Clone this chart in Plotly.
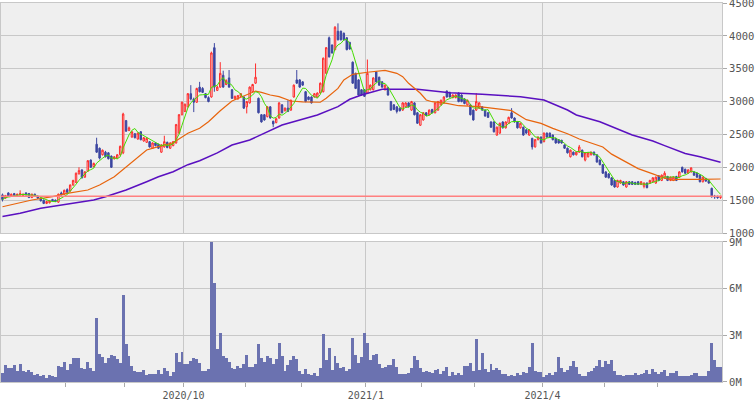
import plotly.graph_objects as go
import pandas as pd

# ---------------- data ----------------
opens = [1580,1530,1610,1560,1600,1570,1580,1570,1610,1600,
         1540,1590,1560,1530,1500,1450,1460,1510,1500,1470,
         1610,1590,1660,1640,1730,1770,1900,1960,1850,1940,
         2110,2010,2350,2290,2190,2230,2220,2170,2130,2140,
         2190,2220,2710,2560,2460,2510,2430,2540,2400,2380,
         2390,2290,2370,2350,2230,2310,2380,2290,2330,2370,
         2520,2800,2850,2920,3120,3040,2990,3220,3200,3120,
         3060,3070,3820,3170,3220,3400,3260,3360,3180,3040,
         3040,3080,3070,2920,2980,3150,3280,3050,2800,2800,
         2770,2920,2700,2680,2750,2950,2860,2900,2870,3070,
         3330,3330,3300,3150,3070,3070,3070,3070,3130,3150,
         3430,3970,3860,3790,4070,4070,4040,3970,3900,3600,
         3430,3330,3180,3180,3130,3180,3180,3450,3370,3300,
         3180,3210,3000,2950,2920,2900,2870,2920,2980,2870,
         2980,2830,2640,2720,2830,2800,2880,2830,2870,2950,
         2980,3160,3140,3060,3060,3130,3100,3040,2950,2950,
         2870,2870,2900,2920,2870,2830,2690,2690,2490,2520,
         2690,2600,2670,2830,2750,2690,2600,2610,2570,2490,
         2440,2310,2420,2460,2390,2520,2520,2490,2440,2420,
         2410,2340,2290,2160,2230,2190,2230,2260,2110,2160,
         2190,2230,2190,2110,2040,1930,1900,1840,1800,1700,
         1760,1780,1700,1780,1780,1770,1780,1740,1710,1760,
         1760,1780,1760,1870,1800,1840,1860,1800,1800,1860,
         1850,2000,1970,1910,1930,1930,1910,1880,1780,1830,
         1800,1680,1560,1550,1540]
highs = [1600,1580,1620,1600,1610,1600,1650,1600,1620,1610,
         1600,1600,1570,1540,1510,1490,1500,1520,1510,1600,
         1630,1660,1680,1740,1810,1920,2000,1970,1940,2110,
         2120,2070,2450,2300,2270,2250,2230,2180,2170,2200,
         2330,2830,2720,2620,2550,2520,2530,2550,2460,2460,
         2400,2380,2380,2360,2350,2480,2390,2380,2400,2660,
         2810,3000,2970,3130,3250,3060,3210,3300,3220,3130,
         3080,3760,3890,3240,3600,3470,3340,3480,3190,3090,
         3100,3130,3080,3010,3230,3270,3580,3060,2810,2810,
         2930,2930,2710,2750,2990,2960,2910,3020,3030,3260,
         3480,3340,3310,3160,3080,3080,3130,3140,3290,3670,
         3830,3990,3870,4150,4190,4080,4050,3980,3910,3610,
         3440,3340,3190,3190,3640,3260,3370,3460,3380,3310,
         3260,3220,3010,2960,2930,2910,2990,2990,2990,3010,
         2990,2840,2810,2840,2840,2880,2890,2990,3010,3030,
         3080,3170,3150,3110,3110,3140,3110,3050,3030,2960,
         2880,3130,2990,2930,2880,2840,2700,2700,2620,2680,
         2700,2700,2770,2900,2760,2700,2680,2620,2580,2580,
         2450,2430,2470,2470,2530,2530,2530,2500,2450,2430,
         2420,2350,2300,2270,2240,2240,2340,2270,2230,2230,
         2240,2240,2200,2120,2050,1940,1910,1850,1810,1810,
         1810,1790,1790,1790,1790,1780,1790,1790,1770,1770,
         1810,1850,1860,1880,1890,1940,1870,1860,1860,1870,
         1940,2010,1980,1970,2000,1940,1920,1890,1860,1840,
         1810,1690,1580,1570,1570]
lows = [1480,1520,1550,1550,1560,1560,1570,1560,1570,1530,
        1530,1550,1520,1480,1440,1440,1450,1480,1470,1460,
        1570,1580,1610,1630,1720,1760,1890,1830,1840,1930,
        1990,2000,2220,2120,2180,2150,2120,1990,2120,2130,
        2180,2200,2540,2550,2450,2440,2420,2410,2390,2370,
        2300,2280,2320,2280,2220,2300,2290,2280,2320,2360,
        2510,2790,2840,2910,3020,2840,2980,3140,3130,3050,
        2990,3060,3150,3160,3210,3210,3250,3210,3040,3030,
        3030,3070,2890,2820,2970,3140,3270,2820,2680,2710,
        2760,2740,2610,2670,2740,2820,2850,2840,2860,3060,
        3270,3210,3240,2990,3020,2970,3060,3060,3120,3140,
        3420,3670,3730,3780,3930,3930,3930,3780,3790,3270,
        3190,3090,3090,3070,3120,3170,3170,3290,3240,3210,
        3170,3090,2860,2870,2820,2850,2860,2910,2910,2860,
        2790,2660,2630,2710,2780,2790,2820,2820,2860,2940,
        2970,3060,3060,3050,3050,2990,2990,2960,2940,2790,
        2710,2860,2890,2860,2770,2750,2600,2530,2480,2510,
        2590,2590,2660,2740,2680,2590,2590,2480,2510,2480,
        2270,2300,2410,2360,2380,2450,2450,2410,2360,2360,
        2360,2280,2210,2150,2180,2180,2220,2150,2090,2150,
        2180,2180,2070,2030,1900,1840,1830,1720,1690,1690,
        1750,1720,1690,1730,1730,1730,1730,1730,1680,1680,
        1750,1770,1750,1790,1790,1830,1790,1790,1790,1790,
        1840,1920,1900,1900,1920,1870,1840,1770,1770,1780,
        1750,1540,1520,1520,1520]
closes = [1510,1570,1560,1590,1570,1590,1600,1590,1580,1540,
          1590,1560,1530,1490,1450,1480,1490,1490,1480,1590,
          1580,1650,1620,1730,1800,1910,1950,1840,1930,2100,
          2000,2060,2230,2140,2260,2160,2130,2000,2160,2190,
          2320,2810,2550,2600,2540,2450,2520,2420,2450,2440,
          2310,2370,2330,2290,2340,2390,2300,2370,2390,2650,
          2800,2990,2960,3120,3040,2990,3200,3150,3140,3060,
          3000,3740,3220,3220,3430,3220,3320,3220,3050,3080,
          3090,3120,2900,3000,3220,3260,3370,2830,2690,2720,
          2920,2750,2660,2740,2980,2830,2900,2850,3020,3250,
          3280,3220,3250,3000,3030,2980,3120,3130,3280,3660,
          3820,3680,3740,4130,3940,3940,3940,3790,3800,3280,
          3200,3100,3100,3080,3430,3250,3360,3300,3250,3220,
          3250,3100,2870,2880,2850,2860,2980,2980,2920,3000,
          2800,2670,2800,2830,2790,2870,2830,2980,3000,3020,
          3070,3070,3070,3100,3100,3000,3000,2970,3020,2800,
          2720,3000,2980,2870,2780,2760,2610,2540,2610,2670,
          2600,2690,2760,2750,2690,2600,2670,2490,2520,2570,
          2310,2420,2460,2370,2520,2460,2460,2420,2370,2370,
          2370,2290,2220,2260,2190,2230,2310,2160,2220,2220,
          2230,2190,2080,2040,1910,1850,1840,1730,1700,1800,
          1800,1730,1780,1740,1740,1740,1740,1780,1760,1690,
          1800,1840,1850,1800,1880,1910,1800,1850,1850,1800,
          1930,1930,1910,1960,1990,1880,1850,1780,1850,1790,
          1760,1550,1550,1540,1545]
volumes_m = [0.6,1.1,0.92,0.92,1.1,0.7,1.16,0.73,0.67,0.77,
             0.65,0.47,0.52,0.41,0.47,0.28,0.45,0.41,0.34,1.03,
             0.99,1.29,0.77,1.16,1.55,1.55,1.55,0.92,0.86,1.29,
             0.92,0.71,4.13,1.8,1.61,1.23,1.55,1.74,1.68,1.5,
             1.23,5.6,2.45,1.68,1.03,0.71,0.65,0.65,0.77,0.45,
             0.52,0.52,0.54,0.77,0.52,0.9,0.73,0.39,0.65,1.87,
             1.27,1.94,1.16,1.16,1.35,1.55,1.5,1.25,0.73,0.73,
             0.84,9.0,6.34,2.15,3.16,1.68,1.57,1.31,0.92,0.86,
             1.03,0.9,1.16,1.74,0.99,0.95,1.16,2.45,1.57,1.29,
             1.68,1.55,1.16,1.48,2.52,1.68,0.71,1.08,1.42,1.68,
             1.5,0.71,0.52,0.84,0.52,0.47,0.6,0.39,0.9,3.1,
             1.42,2.19,0.77,1.68,1.23,0.92,0.97,0.71,0.84,2.84,
             1.74,1.23,1.61,3.16,2.52,1.42,1.76,1.8,1.16,0.9,
             0.99,1.1,1.1,1.48,0.99,0.52,0.52,0.54,0.6,0.9,
             1.66,1.4,0.9,0.67,0.73,0.65,0.6,0.77,0.84,0.5,
             0.71,0.97,0.4,0.62,0.43,0.6,0.43,1.04,1.04,1.2,
             0.73,2.75,0.8,1.85,0.84,0.67,1.16,0.8,0.9,0.77,
             0.52,0.52,0.36,0.47,0.36,0.6,0.43,0.67,0.6,0.97,
             2.5,0.73,0.62,0.65,0.34,0.47,0.6,0.47,0.62,1.6,
             0.9,0.67,0.77,1.04,1.33,0.97,0.52,0.4,0.4,0.62,
             0.73,0.9,1.04,1.4,0.99,1.35,1.16,1.4,0.73,0.47,
             0.47,0.36,0.45,0.43,0.43,0.6,0.47,0.52,0.6,0.77,
             0.5,0.84,0.67,0.52,0.62,0.77,0.4,0.6,0.6,0.73,
             0.4,0.4,0.4,0.36,0.47,0.6,0.6,0.4,0.4,0.4,
             0.73,2.5,1.4,0.99,0.99]

# 25-day and 75-day moving averages (day index, value)
ma25_days = [0,6,10,17,22,29,33,38,42,46,49,53,58,63,67,70,74,78,83,86,88,91,94,98,
             102,108,110,114,116,119,124,130,134,136,138,142,144,146,151,155,162,167,
             170,173,178,183,187,192,196,200,204,207,212,216,221,225,228,229,237,244]
ma25_vals = [1400,1461,1502,1553,1604,1654,1730,1857,2009,2150,2263,2314,2374,2517,
             2593,2694,2860,3010,3110,3160,3140,3100,3075,3009,2995,2990,3050,3200,
             3329,3415,3446,3476,3430,3379,3278,3126,3024,2998,2974,2937,2922,2898,
             2883,2862,2725,2669,2593,2510,2430,2365,2310,2200,2080,1980,1900,1833,
             1800,1815,1817,1822]
ma75_days = [0,6,13,22,31,35,42,49,53,58,63,67,73,78,84,95,107,114,118,122,129,141,
             152,163,176,184,192,195,203,214,221,225,232,237,244]
ma75_vals = [1250,1300,1376,1441,1502,1553,1654,1781,1857,1933,2040,2100,2220,2339,
             2415,2644,2796,2922,3035,3100,3187,3187,3136,3111,3075,3024,2872,2796,
             2694,2492,2400,2330,2210,2160,2076]

support_level = 1560

month_start_days = [22, 42, 62, 83, 102, 124, 143, 161, 184, 205, 223]
quarter_days = [62, 124, 184]
quarter_labels = ["2020/10", "2021/1", "2021/4"]

price_ticks = [1000, 1500, 2000, 2500, 3000, 3500, 4000, 4500]
vol_ticks = [0, 3, 6, 9]
vol_tick_labels = ["0M", "3M", "6M", "9M"]

# ---------------- figure ----------------
n = len(closes)
idx = list(range(n))
ma5 = pd.Series(closes).rolling(5, min_periods=1).mean().tolist()

BG = "#efefef"
GRID = "#c8c8c8"
TXT = "#555555"
FONT = "DejaVu Sans Mono"

fig = go.Figure()

fig.add_shape(type="line", xref="x domain", yref="y", x0=0, x1=1,
              y0=support_level, y1=support_level,
              line=dict(color="#ff8080", width=1.5), layer="above")

fig.add_trace(go.Candlestick(
    x=idx, open=opens, high=highs, low=lows, close=closes,
    increasing=dict(line=dict(color="#ff2a2a", width=1), fillcolor=BG),
    decreasing=dict(line=dict(color="#3c46a0", width=1), fillcolor="#3c46a0"),
    whiskerwidth=0, xaxis="x", yaxis="y", hoverinfo="skip", showlegend=False))

fig.add_trace(go.Scatter(x=ma75_days, y=ma75_vals, mode="lines",
                         line=dict(color="#5a10c0", width=1.5),
                         xaxis="x", yaxis="y", showlegend=False, hoverinfo="skip"))
fig.add_trace(go.Scatter(x=ma25_days, y=ma25_vals, mode="lines",
                         line=dict(color="#e8640c", width=1.2),
                         xaxis="x", yaxis="y", showlegend=False, hoverinfo="skip"))
fig.add_trace(go.Scatter(x=idx, y=ma5, mode="lines",
                         line=dict(color="#44dd00", width=1),
                         xaxis="x", yaxis="y", showlegend=False, hoverinfo="skip"))

fig.add_trace(go.Bar(x=idx, y=[v * 1e6 for v in volumes_m],
                     marker=dict(color="#6b72b0", line=dict(width=0)),
                     xaxis="x2", yaxis="y2", showlegend=False, hoverinfo="skip"))

xr = [-0.5, n - 0.5]
major = [d - 0.5 for d in quarter_days]
minor = [d - 0.5 for d in month_start_days if d not in quarter_days]

fig.update_layout(
    width=755, height=400,
    margin=dict(l=1, r=33, t=3, b=18, autoexpand=False),
    paper_bgcolor="white", plot_bgcolor=BG,
    bargap=0,
    xaxis=dict(domain=[0, 1], anchor="y", range=xr, tickvals=major,
               showticklabels=False, ticks="", showgrid=True, gridcolor=GRID,
               gridwidth=1, zeroline=False, showline=True, mirror=True,
               linecolor=GRID, rangeslider=dict(visible=False), automargin=False),
    yaxis=dict(domain=[0.3931, 1], range=[1000, 4500], tickmode="array",
               tickvals=price_ticks, ticktext=[str(v) for v in price_ticks],
               ticklabeloverflow="allow",
               side="right", ticks="outside", ticklen=4, tickcolor="#aaaaaa",
               showgrid=True, gridcolor=GRID, zeroline=False, showline=True,
               mirror=True, linecolor=GRID, automargin=False,
               tickfont=dict(family=FONT, size=10.5, color=TXT)),
    xaxis2=dict(domain=[0, 1], anchor="y2", range=xr, matches="x",
                tickvals=major, ticktext=quarter_labels, ticks="outside",
                ticklen=4, tickcolor="#aaaaaa", showgrid=True, gridcolor=GRID,
                zeroline=False, showline=True, mirror=True, linecolor=GRID,
                automargin=False,
                tickfont=dict(family=FONT, size=10, color=TXT),
                minor=dict(tickvals=minor, ticks="outside", ticklen=4,
                           tickcolor="#aaaaaa", showgrid=False)),
    yaxis2=dict(domain=[0, 0.3694], range=[0, 9e6],
                tickvals=[v * 1e6 for v in vol_ticks], ticktext=vol_tick_labels,
                ticklabeloverflow="allow",
                side="right", ticks="outside", ticklen=4, tickcolor="#aaaaaa",
                showgrid=True, gridcolor=GRID, zeroline=False, showline=True,
                mirror=True, linecolor=GRID, automargin=False,
                tickfont=dict(family=FONT, size=10.5, color=TXT)),
)

fig.write_html("out.html",
               config={"displayModeBar": False, "staticPlot": True},
               post_script="document.body.style.margin='0px';document.body.style.padding='0px';")
